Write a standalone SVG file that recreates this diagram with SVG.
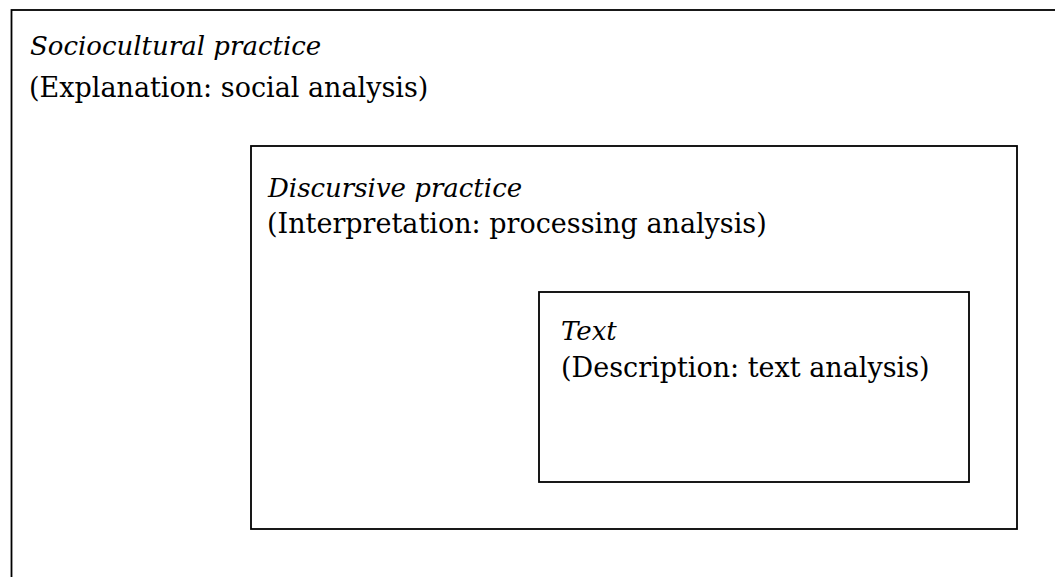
<svg xmlns="http://www.w3.org/2000/svg" width="1055" height="577" viewBox="0 0 1055 577">
<style>
.box{fill:none;stroke:#000;stroke-width:1.8}
.t{font-family:"DejaVu Serif","Liberation Serif",serif;font-size:27px;fill:#000}
.i{font-style:italic;font-size:26px}
</style>
<rect width="1055" height="577" fill="#fff"/>
<g id="sociocultural">
<rect class="box" x="11.5" y="10" width="1100" height="620"/>
<text class="t i" x="30" y="55">Sociocultural practice</text>
<text class="t" x="29" y="97">(Explanation: social analysis)</text>
</g>
<g id="discursive">
<rect class="box" x="251" y="146" width="766" height="383"/>
<text class="t i" x="268" y="197">Discursive practice</text>
<text class="t" x="267" y="233">(Interpretation: processing analysis)</text>
</g>
<g id="text">
<rect class="box" x="539" y="292" width="430" height="190"/>
<text class="t i" x="561" y="340">Text</text>
<text class="t" x="561" y="377">(Description: text analysis)</text>
</g>
<g id="connectors"/>
</svg>
